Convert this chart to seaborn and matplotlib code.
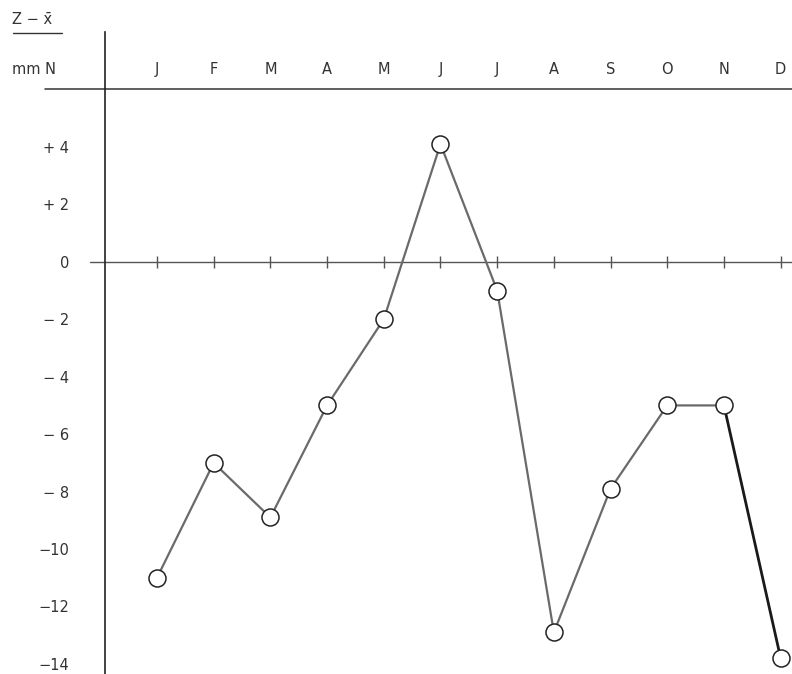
import matplotlib
matplotlib.use("Agg")
import matplotlib.pyplot as plt
import seaborn as sns
import pandas as pd
from matplotlib.lines import Line2D

# ---- data ----
months = ["J", "F", "M", "A", "M", "J", "J", "A", "S", "O", "N", "D"]
month_pos = list(range(1, 13))
deviation = [-11, -7, -8.9, -5, -2, 4.1, -1, -12.9, -7.9, -5, -5, -13.8]
ytick_vals = [4, 2, 0, -2, -4, -6, -8, -10, -12, -14]
ytick_labels = ["+ 4", "+ 2", "0", "\u2212 2", "\u2212 4", "\u2212 6", "\u2212 8", "\u221210", "\u221212", "\u221214"]
title_top = "Z \u2212 x\u0304"
unit_label = "mm N"

sns.set_theme(style="white")
plt.rcParams["font.family"] = ["DejaVu Sans"]

W, H = 792, 674
fig = plt.figure(figsize=(W / 100, H / 100), dpi=100)
fig.patch.set_facecolor("white")
ax = fig.add_axes([105 / W, 0, 1 - 105 / W, 1 - 32 / H])
ax.set_facecolor("white")

ax.set_xlim(0.083, 12.2)
ax.set_ylim(-14.35, 8.0)

df = pd.DataFrame({"m": month_pos, "v": deviation})
grey = "#6a6a6a"
# main line (J..N)
sns.lineplot(data=df.iloc[:11], x="m", y="v", ax=ax, color=grey, lw=1.6,
             estimator=None, sort=False, zorder=3)
# darker final segment (N..D)
sns.lineplot(data=df.iloc[10:], x="m", y="v", ax=ax, color="#1a1a1a", lw=2.0,
             estimator=None, sort=False, zorder=3)
# open circle markers
sns.scatterplot(data=df, x="m", y="v", ax=ax, s=150, facecolor="white",
                edgecolor="#222222", linewidth=1.1, zorder=5, clip_on=False)

# zero line with month ticks
ax.plot([-0.18, 12.2], [0, 0], color="#555555", lw=1.0, clip_on=False, zorder=2)
ax.plot(month_pos, [0] * 12, ls="none", marker="|", ms=9, mew=1.0,
        color="#555555", clip_on=False, zorder=2)

# top horizontal rule
ax.plot([-0.975, 12.2], [6.03, 6.03], color="#333333", lw=1.1, clip_on=False)

# month labels
for p, lab in zip(month_pos, months):
    ax.text(p, 6.69, lab, ha="center", va="center", fontsize=10.5,
            color="#333333", clip_on=False)

# y axis ticks
ax.set_yticks(ytick_vals)
ax.set_yticklabels(ytick_labels)
ax.tick_params(axis="y", length=0, pad=26, labelsize=10.5, labelcolor="#333333")
ax.set_xticks([])
ax.set_xlabel("")
ax.set_ylabel("")

for s in ["top", "right", "bottom"]:
    ax.spines[s].set_visible(False)
ax.spines["left"].set_color("#222222")
ax.spines["left"].set_linewidth(1.2)

# corner labels
fig.text(12 / W, 1 - 20 / H, title_top, ha="left", va="center", fontsize=10.5,
         color="#333333")
fig.add_artist(Line2D([13 / W, 62 / W], [1 - 33 / H, 1 - 33 / H],
                      transform=fig.transFigure, color="#333333", lw=1.0))
fig.text(12 / W, 1 - 70 / H, unit_label, ha="left", va="center", fontsize=10.5,
         color="#333333")

fig.savefig("out.png", dpi=100, facecolor="white")
